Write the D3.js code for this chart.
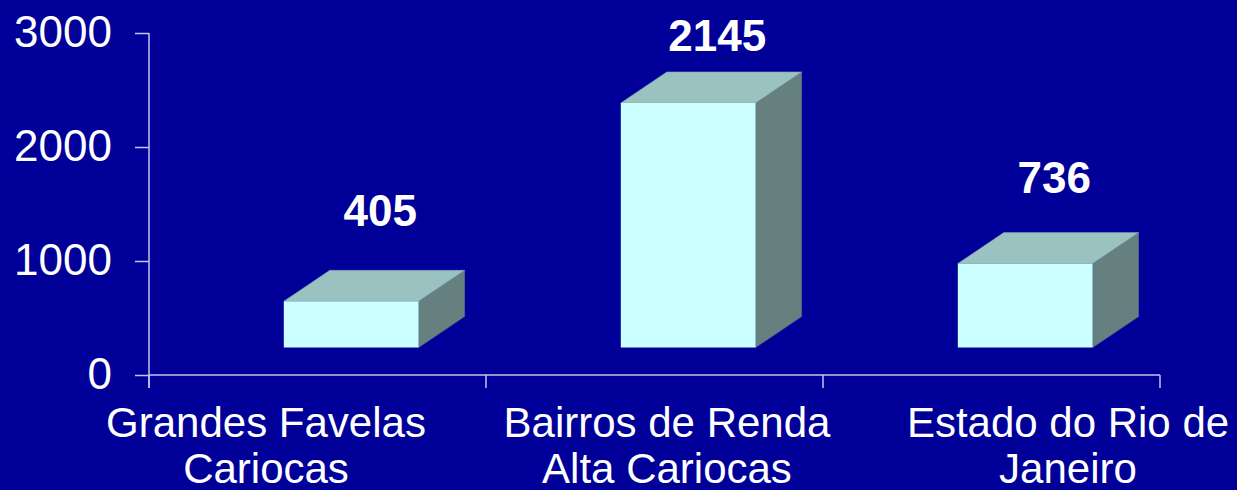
<!DOCTYPE html>
<html>
<head>
<meta charset="utf-8">
<script src="https://cdn.jsdelivr.net/npm/d3@7"></script>
<style>
  html, body { margin: 0; padding: 0; background: #000099; }
  svg { display: block; font-family: "Liberation Sans", Arial, sans-serif; }
</style>
</head>
<body>
<svg id="chart" width="1237" height="490"></svg>
<script>
var categories = ['Grandes Favelas Cariocas', 'Bairros de Renda Alta Cariocas', 'Estado do Rio de Janeiro'];
var categoryLines = [['Grandes Favelas', 'Cariocas'], ['Bairros de Renda', 'Alta Cariocas'], ['Estado do Rio de', 'Janeiro']];
var values = [405, 2145, 736];
var yTicks = [0, 1000, 2000, 3000];

var svg = d3.select('#chart');
var width = +svg.attr('width');
var height = +svg.attr('height');

var axisColor = '#c4c4ee';
var depthX = 46, depthY = 31, floorLift = 27.5;

var x = d3.scaleBand().domain(categories).range([149, 1160]).padding(0);
var y = d3.scaleLinear().domain([0, 3000]).range([375, 33]);
// the value labels and category labels sit a bit apart from the bars in the original
var labelY = d3.scaleLinear().domain([0, 3000]).range([267, -35]);
var catX = d3.scalePoint().domain(categories).range([266, 1068]).padding(0);

svg.append('rect').attr('width', width).attr('height', height).attr('fill', '#000099');

// axes
var yAxis = d3.axisLeft(y).tickValues(yTicks).tickSize(14).tickFormat(d3.format('d'));
var yG = svg.append('g').attr('transform', 'translate(149,0)').call(yAxis);
yG.select('.domain').remove();
yG.selectAll('.tick line').attr('stroke', axisColor).attr('stroke-width', 1.5);
yG.selectAll('.tick text')
    .attr('x', -37)
    .attr('dy', '0.30em')
    .attr('fill', '#ffffff')
    .style('font-size', '44px')
    .style('font-family', '"Liberation Sans", Arial, sans-serif');

svg.append('line')
    .attr('x1', 149).attr('x2', 149)
    .attr('y1', y(3000)).attr('y2', y(0) + 13)
    .attr('stroke', axisColor).attr('stroke-width', 1.5);

svg.append('line')
    .attr('x1', 149).attr('x2', 1160)
    .attr('y1', y(0)).attr('y2', y(0))
    .attr('stroke', axisColor).attr('stroke-width', 1.5);

var xTickPos = categories.map(function(c) { return x(c); }).concat([x.range()[1]]);
svg.selectAll('.x-tick')
    .data(xTickPos)
    .enter().append('line')
    .attr('class', 'x-tick')
    .attr('x1', function(d) { return d; })
    .attr('x2', function(d) { return d; })
    .attr('y1', y(0))
    .attr('y2', y(0) + 13)
    .attr('stroke', axisColor).attr('stroke-width', 1.5);

// 3d bars
var bars = svg.selectAll('.bar')
    .data(values)
    .enter().append('g')
    .attr('class', 'bar');

function frontX(i) { return x(categories[i]) + x.bandwidth() * 0.4; }
var frontW = x.bandwidth() * 0.4;
var base = y(0) - floorLift;

bars.append('path')
    .attr('fill', '#668080')
    .attr('stroke', '#56708a').attr('stroke-width', 0.6)
    .attr('d', function(d, i) {
        var x1 = frontX(i) + frontW, top = base - (y(0) - y(d));
        return 'M' + x1 + ',' + base + 'L' + (x1 + depthX) + ',' + (base - depthY) +
               'L' + (x1 + depthX) + ',' + (top - depthY) + 'L' + x1 + ',' + top + 'Z';
    });

bars.append('path')
    .attr('fill', '#99c2c0')
    .attr('stroke', '#7f9fb0').attr('stroke-width', 0.6)
    .attr('d', function(d, i) {
        var x0 = frontX(i), x1 = x0 + frontW, top = base - (y(0) - y(d));
        return 'M' + x0 + ',' + top + 'L' + (x0 + depthX) + ',' + (top - depthY) +
               'L' + (x1 + depthX) + ',' + (top - depthY) + 'L' + x1 + ',' + top + 'Z';
    });

bars.append('rect')
    .attr('fill', '#ccffff')
    .attr('x', function(d, i) { return frontX(i); })
    .attr('width', frontW)
    .attr('y', function(d) { return base - (y(0) - y(d)); })
    .attr('height', function(d) { return y(0) - y(d); });

// value labels
svg.selectAll('.value-label')
    .data(values)
    .enter().append('text')
    .attr('class', 'value-label')
    .attr('x', function(d, i) { return frontX(i) + frontW / 2 + 29; })
    .attr('y', function(d) { return labelY(d); })
    .attr('text-anchor', 'middle')
    .attr('fill', '#ffffff')
    .style('font-size', '44px')
    .style('font-weight', 'bold')
    .text(function(d) { return d; });

// category labels
var catLabels = svg.selectAll('.cat-label')
    .data(categories)
    .enter().append('text')
    .attr('class', 'cat-label')
    .attr('text-anchor', 'middle')
    .attr('fill', '#ffffff')
    .style('font-size', '42px');

catLabels.selectAll('tspan')
    .data(function(d, i) { return categoryLines[i]; })
    .enter().append('tspan')
    .attr('x', function() { return catX(d3.select(this.parentNode).datum()); })
    .attr('y', function(d, j) { return 437 + j * 46; })
    .text(function(d) { return d; });
</script>
</body>
</html>
